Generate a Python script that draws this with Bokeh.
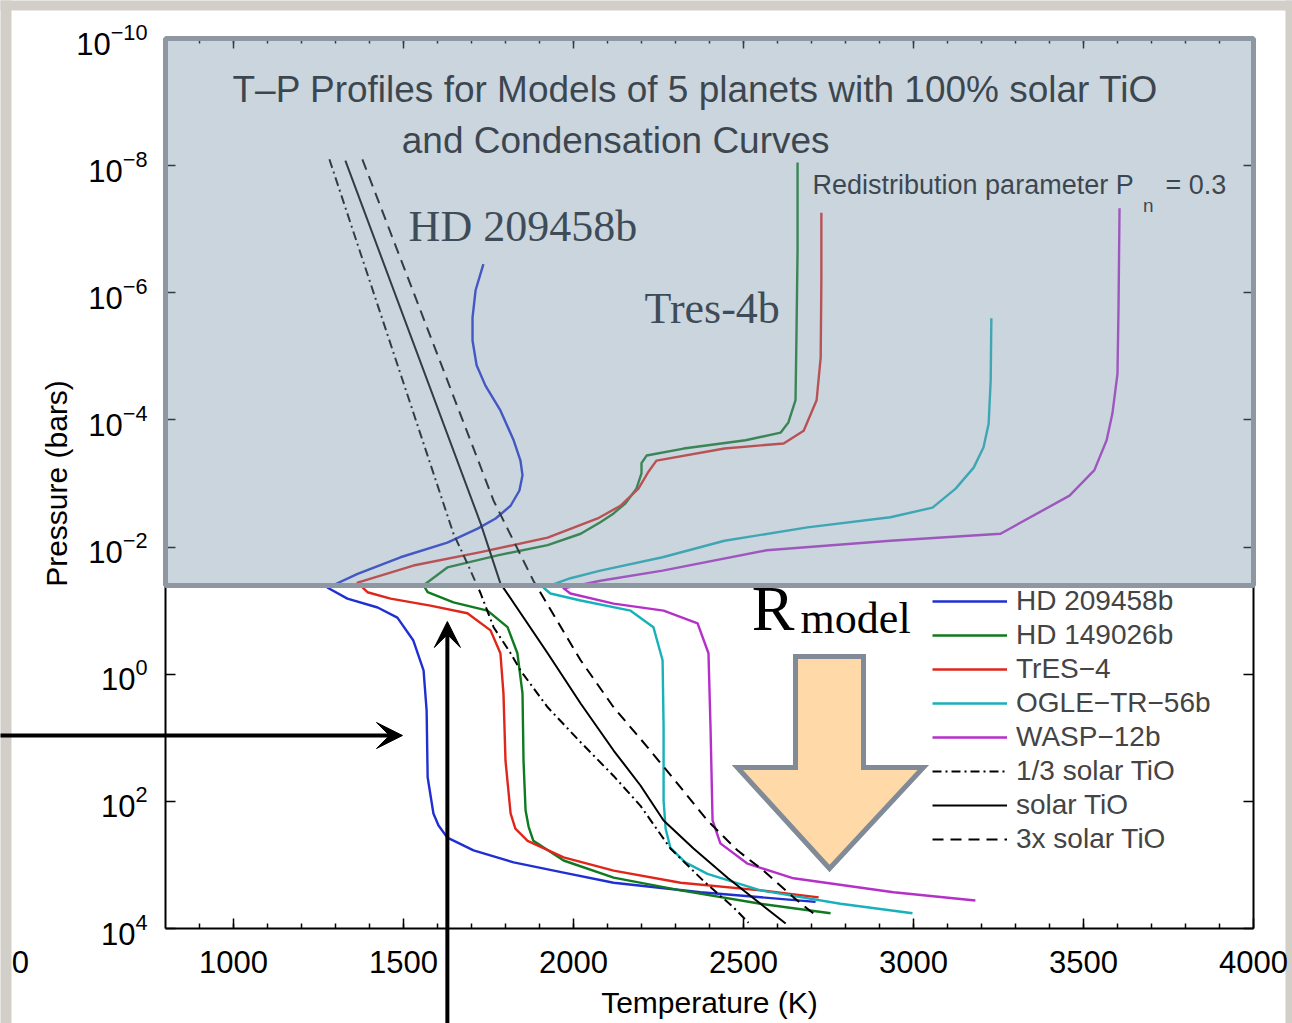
import math
from bokeh.plotting import figure
from bokeh.models import (Range1d, LinearAxis, LogAxis, FixedTicker, BoxAnnotation,
                          Arrow, VeeHead, Legend, LegendItem)
from bokeh.core.properties import value
from bokeh.embed import file_html
from bokeh.resources import INLINE

# ---------------- data (temperature in K, log10 of pressure in bars) ----------------
hd209_T = [1735, 1712, 1703, 1703, 1715, 1741, 1785, 1824, 1844, 1850, 1841, 1815, 1771, 1718, 1629, 1491,
           1365, 1277, 1335, 1424, 1482, 1529, 1559, 1568, 1571, 1588, 1603, 1629, 1706, 1824, 1971, 2118, 2374,
           2712]
hd209_logP = [-6.45, -6.04, -5.61, -5.25, -4.86, -4.54, -4.15, -3.68, -3.36, -3.13, -2.89, -2.65, -2.45, -2.29,
              -2.07, -1.84, -1.58, -1.36, -1.19, -1.05, -0.89, -0.53, -0.06, 0.57, 1.62, 2.19, 2.38, 2.57, 2.77,
              2.96, 3.12, 3.28, 3.43, 3.58]

hd149_T = [2659, 2659, 2656, 2653, 2632, 2609, 2506, 2324, 2215, 2200, 2200, 2185, 2153, 2118, 2079, 2021, 1924,
           1777, 1629, 1559, 1571, 1647, 1747, 1806, 1835, 1850, 1853, 1859, 1868, 1882, 1971, 2118, 2315, 2550,
           2756]
hd149_logP = [-8.05, -6.67, -5.41, -4.31, -3.96, -3.80, -3.68, -3.55, -3.44, -3.32, -3.16, -2.92, -2.69, -2.53, -2.39,
              -2.21, -2.03, -1.87, -1.68, -1.40, -1.29, -1.13, -1.00, -0.74, -0.33, 0.30, 1.36, 2.14, 2.40, 2.62,
              2.93, 3.20, 3.40, 3.61, 3.76]

tres4_T = [2729, 2729, 2727, 2715, 2677, 2618, 2444, 2244, 2221, 2191, 2138, 2071, 1924, 1727, 1529, 1365,
           1394, 1462, 1579, 1688, 1756, 1785, 1794, 1800, 1815, 1829, 1865, 1971, 2118, 2315, 2550, 2721]
tres4_logP = [-7.26, -6.19, -4.98, -4.31, -3.83, -3.63, -3.55, -3.36, -3.19, -2.92, -2.65, -2.45, -2.15, -1.92, -1.71,
              -1.44, -1.29, -1.19, -1.08, -0.96, -0.69, -0.33, 0.30, 1.36, 2.19, 2.43, 2.62, 2.88, 3.09, 3.28, 3.40,
              3.51]

ogle_T = [3229, 3227, 3221, 3206, 3177, 3124, 3056, 2932, 2688, 2444, 2262, 2079, 1991, 1912,
          1932, 2021, 2168, 2235, 2262, 2265, 2265, 2271, 2285, 2329, 2394, 2550, 2785, 2997]
ogle_logP = [-5.60, -4.62, -3.94, -3.57, -3.25, -2.92, -2.62, -2.47, -2.31, -2.10, -1.84, -1.63, -1.51, -1.36,
             -1.27, -1.16, -1.00, -0.74, -0.22, 0.84, 1.99, 2.43, 2.73, 2.96, 3.14, 3.40, 3.61, 3.76]

wasp_T = [3606, 3603, 3600, 3585, 3568, 3532, 3459, 3256, 2932, 2568, 2262, 2079, 1971,
          1991, 2118, 2265, 2365, 2397, 2403, 2409, 2432, 2512, 2647, 2941, 3182]
wasp_logP = [-7.33, -5.77, -4.73, -4.10, -3.68, -3.21, -2.81, -2.21, -2.10, -1.95, -1.63, -1.47, -1.35,
             -1.27, -1.11, -1.00, -0.80, -0.33, 0.84, 2.30, 2.66, 2.98, 3.21, 3.43, 3.56]

tio13_T = [1282, 1647, 1688, 1727, 1765, 1815, 1844, 1924, 2021, 2118, 2197, 2285, 2382, 2471, 2515]
tio13_logP = [-8.10, -2.21, -1.74, -1.27, -0.74, -0.33, -0.06, 0.52, 1.07, 1.60, 2.07, 2.74, 3.25, 3.67, 3.91]

tio1_T = [1329, 1727, 1785, 1924, 2021, 2118, 2197, 2265, 2353, 2453, 2550, 2624]
tio1_logP = [-8.08, -2.37, -1.43, -0.33, 0.46, 1.20, 1.75, 2.30, 2.74, 3.20, 3.61, 3.92]

tio3_T = [1379, 1765, 1882, 2021, 2118, 2218, 2315, 2394, 2482, 2559, 2647, 2721]
tio3_logP = [-8.10, -2.73, -1.47, -0.22, 0.52, 1.15, 1.78, 2.30, 2.77, 3.09, 3.51, 3.83]

series_names = ["HD 209458b", "HD 149026b", "TrES\u22124", "OGLE\u2212TR\u221256b", "WASP\u221212b",
                "1/3 solar TiO", "solar TiO", "3x solar TiO"]

x_ticks = [1000, 1500, 2000, 2500, 3000, 3500, 4000]
x_minor = list(range(900, 4000, 100))
y_tick_exps = [-10, -8, -6, -4, -2, 0, 2, 4]

title_lines = ["T\u2013P Profiles for Models of 5 planets with 100% solar TiO", "and Condensation Curves"]

SANS = "Liberation Sans"
SERIF = "Liberation Serif"

# axis box (data limits) and the canvas-wide view around it
T_MIN, T_MAX = 800, 4000
P_TOP, P_BOT = 1e-10, 1e4
VIEW_X = (314.7, 4114.7)
VIEW_Y = (10 ** 5.494, 10 ** -10.598)


def P(logs):
    return [10.0 ** v for v in logs]


p = figure(width=1292, height=1023, x_range=Range1d(*VIEW_X), y_range=Range1d(*VIEW_Y),
           y_axis_type="log", x_axis_location=None, y_axis_location=None,
           output_backend="svg", toolbar_location=None, min_border=0,
           background_fill_color="white", border_fill_color="white")
p.grid.visible = False
p.outline_line_color = None

# slide-like grey border strips (drawn first, underneath everything)
for l, r, t, b in [(200, 347, 1e-12, 1e7), (200, 4200, 1e-12, 10 ** -10.44), (4094, 4200, 1e-12, 1e7)]:
    p.add_layout(BoxAnnotation(left=l, right=r, top=t, bottom=b, fill_color="#d2cfc8", fill_alpha=1,
                               line_alpha=0, level="underlay"))


def style_common(ax):
    ax.axis_line_color = "black"
    ax.axis_line_width = 2
    ax.major_tick_in = 10
    ax.major_tick_out = 0
    ax.major_tick_line_width = 1.5
    ax.major_tick_line_color = "black"
    ax.major_label_text_font = SANS
    ax.major_label_text_color = "black"
    ax.axis_label_text_font = SANS
    ax.axis_label_text_font_style = "normal"
    ax.axis_label_text_font_size = "30px"
    ax.axis_label_text_color = "black"


def make_x(loc, labels):
    ax = LinearAxis(fixed_location=loc, bounds=(T_MIN, T_MAX),
                    ticker=FixedTicker(ticks=x_ticks, minor_ticks=x_minor))
    style_common(ax)
    ax.minor_tick_in = 5
    ax.minor_tick_out = 0
    ax.minor_tick_line_width = 1.5
    ax.minor_tick_line_color = "black"
    if labels:
        ax.major_label_text_font_size = "31px"
        ax.major_label_standoff = 22
        ax.axis_label = "Temperature (K)"
        ax.axis_label_standoff = 10
    else:
        ax.major_label_text_font_size = "0px"
        ax.major_label_text_alpha = 0
    return ax


def make_y(loc, labels):
    ax = LogAxis(fixed_location=loc, bounds=(P_TOP, P_BOT),
                 ticker=FixedTicker(ticks=[10.0 ** e for e in y_tick_exps]))
    style_common(ax)
    ax.minor_tick_in = 0
    ax.minor_tick_out = 0
    if labels:
        ax.major_label_text_font_size = "31px"
        ax.major_label_standoff = 18
        ax.axis_label = "Pressure (bars)"
        ax.axis_label_standoff = 0
    else:
        ax.major_label_text_font_size = "0px"
        ax.major_label_text_alpha = 0
    return ax


p.add_layout(make_x(P_BOT, True), "below")
p.add_layout(make_x(P_TOP, False), "above")
p.add_layout(make_y(T_MIN, True), "left")
p.add_layout(make_y(T_MAX, False), "right")

# ---------------- curves ----------------
colors = ["#1f2fd2", "#0f7a1f", "#e0261a", "#17b1ba", "#b52fc9"]
planet_data = [(hd209_T, hd209_logP), (hd149_T, hd149_logP), (tres4_T, tres4_logP),
               (ogle_T, ogle_logP), (wasp_T, wasp_logP)]
renderers = []
for (T, lp), c in zip(planet_data, colors):
    renderers.append(p.line(T, P(lp), line_color=c, line_width=2.4, line_join="round"))
renderers.append(p.line(tio13_T, P(tio13_logP), line_color="black", line_width=2, line_dash="9 4 2 4"))
renderers.append(p.line(tio1_T, P(tio1_logP), line_color="black", line_width=2, line_join="round"))
renderers.append(p.line(tio3_T, P(tio3_logP), line_color="black", line_width=2, line_dash="11 7"))

legend = Legend(items=[LegendItem(label=n, renderers=[r]) for n, r in zip(series_names, renderers)],
                location=(932, 167), label_text_font=SANS, label_text_font_size="28px",
                glyph_width=75, glyph_height=34, label_height=34, spacing=0, padding=0, margin=0,
                label_standoff=9, border_line_alpha=0, background_fill_alpha=0)
p.add_layout(legend)


# ---------------- texts inside the shaded region (drawn under the overlay) ----------------
def txt(x, logp, s, font, size, align="left", color="#111111"):
    p.text(x=[x], y=[10 ** logp], text=[s], text_font=value(font), text_font_size=value(size),
           text_align=align, text_baseline="middle", text_color=color)


txt(2359, -9.20, title_lines[0], SANS, "37px", "center")
txt(2124, -8.40, title_lines[1], SANS, "37px", "center")
txt(2703, -7.69, "Redistribution parameter P", SANS, "27px")
txt(3675, -7.38, "n", SANS, "19px")
txt(3741, -7.69, "= 0.3", SANS, "27px")
txt(1515, -7.04, "HD 209458b", SERIF, "44px", color="#151a20")
txt(2209, -5.75, "Tres-4b", SERIF, "44px", color="#151a20")

# R_model label
txt(2524, -1.04, "R", SERIF, "64px", color="black")
txt(2668, -0.88, "model", SERIF, "44px", color="black")

# stray tick-label fragment at the far left of the slide
txt(373.5, 4.534, "0", SANS, "31px", "center", color="black")

# big peach block arrow
arrow_T = [2653, 2853, 2853, 3029, 2753, 2482, 2653]
arrow_P = [0.526, 0.526, 29.3, 29.3, 1138, 29.3, 29.3]
p.patch(arrow_T, arrow_P, fill_color="#ffdaa8", line_color="#808b97", line_width=5, line_join="miter")

# shaded overlay
shade = BoxAnnotation(left=T_MIN, right=T_MAX, top=P_TOP, bottom=10 ** -1.395,
                      fill_color="#7d96ac", fill_alpha=0.4, line_color="#8d98a3", line_alpha=1, line_width=5)
p.add_layout(shade)

# black arrows
p.add_layout(Arrow(end=VeeHead(size=26, fill_color="black", line_color="black"),
                   x_start=250, y_start=9.2, x_end=1497, y_end=9.2, line_width=4, line_color="black"))
p.add_layout(Arrow(end=VeeHead(size=26, fill_color="black", line_color="black"),
                   x_start=1629, y_start=1e6, x_end=1629, y_end=0.148, line_width=4, line_color="black"))

open("out.html", "w").write(file_html(p, INLINE))
